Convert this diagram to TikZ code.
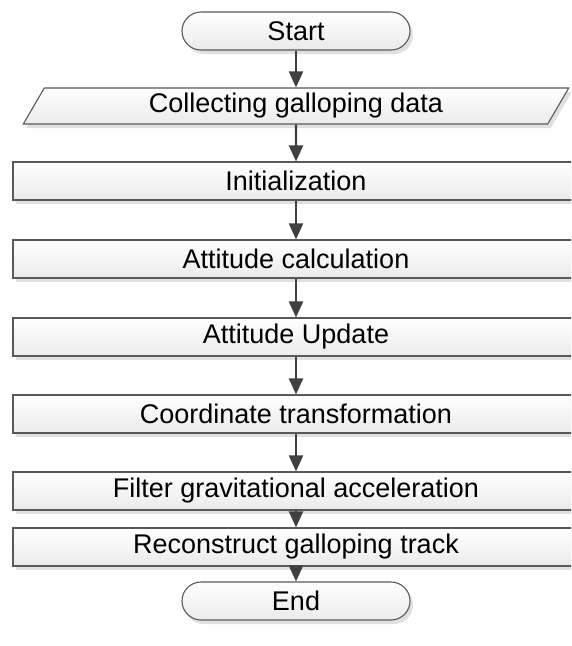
\documentclass[tikz,border=0pt]{standalone}
\usepackage{fontspec}
\setmainfont{Liberation Sans}
\usetikzlibrary{arrows.meta,shapes.geometric,shadows}

\begin{document}
\begin{tikzpicture}[x=1pt,y=-1pt,
		font=\fontsize{27}{32}\selectfont,
		boxbase/.style={draw=black!65,line width=1.1pt,top color=white,bottom color=black!8,
			general shadow={fill=black!12,shadow xshift=3pt,shadow yshift=-4pt},inner sep=0pt},
		termbox/.style={boxbase,rectangle,rounded corners=19pt,minimum width=228pt,minimum height=38pt},
		iobox/.style={boxbase,trapezium,trapezium left angle=64,trapezium right angle=116,
			trapezium stretches=true,minimum width=547pt,minimum height=36pt},
		procbox/.style={boxbase,rectangle,minimum width=566pt,minimum height=38pt},
		flow/.style={draw=black!75,line width=2.2pt,-{Triangle[width=14pt,length=16pt]}}]
			\useasboundingbox (0,0) rectangle (571,646);
			\clip (0,0) rectangle (571,646);
			\node[termbox] (start) at (296,31) {Start};
			\node[iobox] (collect) at (296,106) {Collecting galloping data};
			\node[procbox] (init) at (296,181) {Initialization};
			\node[procbox] (calc) at (296,259) {Attitude calculation};
			\node[procbox] (update) at (296,337) {Attitude Update};
			\node[procbox] (coord) at (296,414) {Coordinate transformation};
			\node[procbox] (filter) at (296,491) {Filter gravitational acceleration};
			\node[procbox] (track) at (296,547) {Reconstruct galloping track};
			\node[termbox] (end) at (296,601) {End};
			\draw[flow] (start) -- (collect);
			\draw[flow] (collect) -- (init);
			\draw[flow] (init) -- (calc);
			\draw[flow] (calc) -- (update);
			\draw[flow] (update) -- (coord);
			\draw[flow] (coord) -- (filter);
			\draw[flow] (filter) -- (track);
			\draw[flow] (track) -- (end);
		\end{tikzpicture}
\end{document}
